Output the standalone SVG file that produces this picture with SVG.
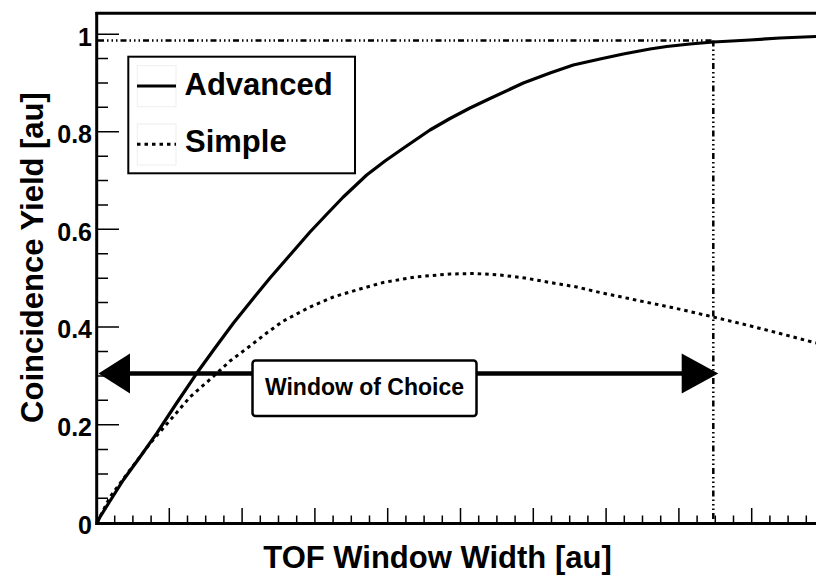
<svg xmlns="http://www.w3.org/2000/svg" width="816" height="575" viewBox="0 0 816 575">
<style>
text{font-family:"Liberation Sans",Arial,Helvetica,sans-serif;font-weight:bold;fill:#000}
.ax{stroke:#000;stroke-width:3;fill:none}
.tk{stroke:#000;stroke-width:1.5;fill:none}
.solid{stroke:#000;stroke-width:3.2;fill:none;stroke-linejoin:round}
.dot{stroke:#000;stroke-width:3;fill:none;stroke-dasharray:3.5 4}
.dd{stroke:#000;stroke-width:2.5;fill:none;stroke-dasharray:6 3 1.5 3 1.5 3 1.5 3}
.ylab{font-size:25px;text-anchor:end}
</style>
<rect width="816" height="575" fill="#fff"/>
<g id="frame">
<line class="ax" x1="95.5" y1="13.3" x2="816" y2="13.3"/>
<line class="ax" x1="96.7" y1="12" x2="96.7" y2="525"/>
<line class="ax" x1="95.5" y1="523.5" x2="816" y2="523.5"/>
<path class="tk" d="M97 522.7H119M97 424.7H119M97 327H119M97 229.3H119M97 131.7H119M97 34.3H119M97 498.3H108M97 473.9H108M97 449.5H108M97 400.3H108M97 375.9H108M97 351.5H108M97 302.6H108M97 278.2H108M97 253.8H108M97 205H108M97 180.6H108M97 156.2H108M97 107.3H108M97 82.9H108M97 58.5H108"/>
<path class="tk" d="M169.3 523V508M242.1 523V508M314.9 523V508M387.7 523V508M460.5 523V508M533.3 523V508M606.1 523V508M678.9 523V508M751.7 523V508M114.7 523V515.5M132.9 523V515.5M151.1 523V515.5M187.5 523V515.5M205.7 523V515.5M223.9 523V515.5M260.3 523V515.5M278.5 523V515.5M296.7 523V515.5M333.1 523V515.5M351.3 523V515.5M369.5 523V515.5M405.9 523V515.5M424.1 523V515.5M442.3 523V515.5M478.7 523V515.5M496.9 523V515.5M515.1 523V515.5M551.5 523V515.5M569.7 523V515.5M587.9 523V515.5M624.3 523V515.5M642.5 523V515.5M660.7 523V515.5M697.1 523V515.5M715.3 523V515.5M733.5 523V515.5M769.9 523V515.5M788.1 523V515.5M806.3 523V515.5"/>
<text class="ylab" x="92" y="46">1</text>
<text class="ylab" x="92" y="143">0.8</text>
<text class="ylab" x="92" y="240.5">0.6</text>
<text class="ylab" x="92" y="338">0.4</text>
<text class="ylab" x="92" y="436">0.2</text>
<text class="ylab" x="92" y="534">0</text>
<text x="437.5" y="567.5" font-size="31" text-anchor="middle">TOF Window Width [au]</text>
<text transform="translate(43 257.5) rotate(-90)" font-size="31" text-anchor="middle">Coincidence Yield [au]</text>
</g>
<g id="guides">
<line class="dd" x1="98" y1="40.5" x2="713.3" y2="40.5"/>
<line class="dd" x1="713.3" y1="40.5" x2="713.3" y2="522"/>
</g>
<g id="advanced">
<polyline class="solid" points="97,522.7 100,517 110,501 123.3,480 140,457 156.7,433.3 176,404 196.7,373.3 215,348 233.3,323.3 252,300 270,278 290,255 310,232 327,214 343.3,197 366.7,175 385,161 403.3,148.3 430,130 450,118.5 470,108 490,98.5 523.3,83 550,73 573.3,65 600,59 623.3,54 650,49 666.7,46.5 690,44 713.3,42 750,40 780,38 816,36.5"/>
</g>
<g id="simple">
<polyline class="dot" points="97,522.7 110,497 130,470 150,443.5 173.3,416.5 190,397 213.3,376.5 230,361 250,346 266.7,333 283.3,321 310,307 333.3,297 360,289 383.3,282.5 415,277 450,274 475,273.5 500,275 525,278 550,282.5 576.7,287 600,292.5 633.3,299.5 660,305 683.3,310 713.3,317 746.7,325 780,333.5 816,343"/>
</g>
<g id="connectors">
<line x1="125" y1="373.5" x2="688" y2="373.5" stroke="#000" stroke-width="4.5"/>
<polygon points="98.5,373.5 130,353.5 130,393.5" fill="#000"/>
<polygon points="718.3,373.5 681.7,353.5 681.7,393.5" fill="#000"/>
</g>
<g id="window-label">
<rect x="252.5" y="360.5" width="224" height="55.5" rx="3" fill="#fff" stroke="#000" stroke-width="2.5"/>
<text x="364.5" y="395" font-size="23" text-anchor="middle">Window of Choice</text>
</g>
<g id="legend">
<rect x="128.3" y="56.7" width="226.7" height="116.6" fill="#fff" stroke="#000" stroke-width="2"/>
<rect x="137.3" y="65.7" width="38.7" height="41" fill="none" stroke="#eee" stroke-width="1"/>
<rect x="137.3" y="124" width="38.7" height="41" fill="none" stroke="#eee" stroke-width="1"/>
<line class="solid" x1="137" y1="86" x2="176" y2="86"/>
<line class="dot" x1="137" y1="144.3" x2="176" y2="144.3"/>
<text x="184.5" y="95" font-size="31">Advanced</text>
<text x="185" y="151.7" font-size="31">Simple</text>
</g>
</svg>
